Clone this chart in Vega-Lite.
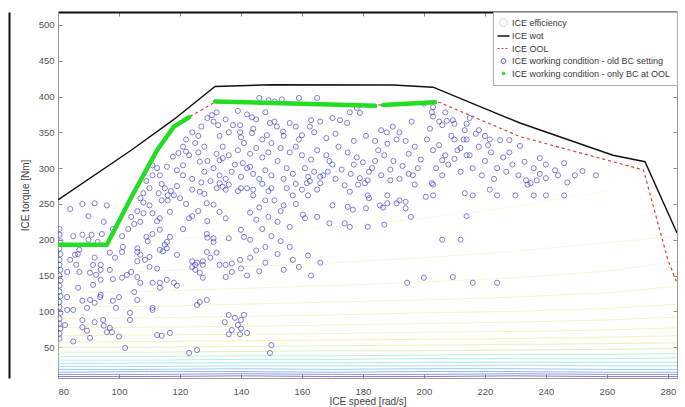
{
  "$schema": "https://vega.github.io/schema/vega-lite/v6.json",
  "width": 619,
  "height": 366,
  "autosize": {"type": "none"},
  "padding": {"left": 58, "top": 12, "right": 8, "bottom": 29},
  "background": "white",
  "config": {
    "font": "Liberation Sans",
    "view": {"stroke": null},
    "axis": {
      "grid": false,
      "labelFont": "Liberation Sans",
      "labelFontSize": 9.5,
      "labelColor": "#555555",
      "titleFont": "Liberation Sans",
      "titleFontSize": 10,
      "titleFontWeight": "normal",
      "titleColor": "#444444",
      "domainColor": "#9a9a9a",
      "tickColor": "#8a8a8a",
      "tickSize": -4
    }
  },
  "datasets": {
    "wot": [
      {"speed": 80, "torque": 255.6}, {"speed": 104, "torque": 325}, {"speed": 118, "torque": 368},
      {"speed": 131.5, "torque": 414}, {"speed": 150, "torque": 416.5}, {"speed": 190, "torque": 416},
      {"speed": 203, "torque": 413}, {"speed": 231.5, "torque": 363}, {"speed": 262, "torque": 318},
      {"speed": 272.5, "torque": 309}, {"speed": 283, "torque": 209.5}
    ],
    "ool": [
      {"speed": 80, "torque": 193}, {"speed": 96, "torque": 193}, {"speed": 112.5, "torque": 325},
      {"speed": 118, "torque": 358}, {"speed": 124, "torque": 374}, {"speed": 131.5, "torque": 392},
      {"speed": 184, "torque": 388}, {"speed": 205, "torque": 392}, {"speed": 231.5, "torque": 344},
      {"speed": 272, "torque": 297.5}, {"speed": 280, "torque": 172}, {"speed": 283, "torque": 140}
    ],
    "bcool": [
      {"seg": 1, "speed": 80, "torque": 193}, {"seg": 1, "speed": 96, "torque": 193}, {"seg": 1, "speed": 104, "torque": 259},
      {"seg": 1, "speed": 112.5, "torque": 325}, {"seg": 1, "speed": 118, "torque": 358}, {"seg": 1, "speed": 123, "torque": 371},
      {"seg": 2, "speed": 131.5, "torque": 393}, {"seg": 2, "speed": 160, "torque": 390}, {"seg": 2, "speed": 184, "torque": 387},
      {"seg": 3, "speed": 186.6, "torque": 388}, {"seg": 3, "speed": 203.6, "torque": 392}
    ],
    "contours": [
      {"eff": 0.04, "speed": 80, "torque": 9}, {"eff": 0.04, "speed": 110, "torque": 9}, {"eff": 0.04, "speed": 140, "torque": 10}, {"eff": 0.04, "speed": 170, "torque": 9}, {"eff": 0.04, "speed": 200, "torque": 9}, {"eff": 0.04, "speed": 230, "torque": 10}, {"eff": 0.04, "speed": 260, "torque": 9}, {"eff": 0.04, "speed": 283, "torque": 9},
      {"eff": 0.06, "speed": 80, "torque": 12}, {"eff": 0.06, "speed": 110, "torque": 12}, {"eff": 0.06, "speed": 140, "torque": 13}, {"eff": 0.06, "speed": 170, "torque": 12}, {"eff": 0.06, "speed": 200, "torque": 12}, {"eff": 0.06, "speed": 230, "torque": 13}, {"eff": 0.06, "speed": 260, "torque": 12}, {"eff": 0.06, "speed": 283, "torque": 12},
      {"eff": 0.08, "speed": 80, "torque": 15}, {"eff": 0.08, "speed": 110, "torque": 16}, {"eff": 0.08, "speed": 140, "torque": 16}, {"eff": 0.08, "speed": 170, "torque": 15}, {"eff": 0.08, "speed": 200, "torque": 16}, {"eff": 0.08, "speed": 230, "torque": 16}, {"eff": 0.08, "speed": 260, "torque": 15}, {"eff": 0.08, "speed": 283, "torque": 15},
      {"eff": 0.1, "speed": 80, "torque": 19}, {"eff": 0.1, "speed": 110, "torque": 19}, {"eff": 0.1, "speed": 140, "torque": 20}, {"eff": 0.1, "speed": 170, "torque": 19}, {"eff": 0.1, "speed": 200, "torque": 20}, {"eff": 0.1, "speed": 230, "torque": 20}, {"eff": 0.1, "speed": 260, "torque": 19}, {"eff": 0.1, "speed": 283, "torque": 19},
      {"eff": 0.12, "speed": 80, "torque": 23}, {"eff": 0.12, "speed": 110, "torque": 23}, {"eff": 0.12, "speed": 140, "torque": 24}, {"eff": 0.12, "speed": 170, "torque": 24}, {"eff": 0.12, "speed": 200, "torque": 24}, {"eff": 0.12, "speed": 230, "torque": 25}, {"eff": 0.12, "speed": 260, "torque": 24}, {"eff": 0.12, "speed": 283, "torque": 24},
      {"eff": 0.14, "speed": 80, "torque": 27}, {"eff": 0.14, "speed": 110, "torque": 28}, {"eff": 0.14, "speed": 140, "torque": 28}, {"eff": 0.14, "speed": 170, "torque": 28}, {"eff": 0.14, "speed": 200, "torque": 29}, {"eff": 0.14, "speed": 230, "torque": 29}, {"eff": 0.14, "speed": 260, "torque": 29}, {"eff": 0.14, "speed": 283, "torque": 29},
      {"eff": 0.16, "speed": 80, "torque": 32}, {"eff": 0.16, "speed": 110, "torque": 32}, {"eff": 0.16, "speed": 140, "torque": 33}, {"eff": 0.16, "speed": 170, "torque": 33}, {"eff": 0.16, "speed": 200, "torque": 34}, {"eff": 0.16, "speed": 230, "torque": 34}, {"eff": 0.16, "speed": 260, "torque": 34}, {"eff": 0.16, "speed": 283, "torque": 35},
      {"eff": 0.18, "speed": 80, "torque": 37}, {"eff": 0.18, "speed": 110, "torque": 37}, {"eff": 0.18, "speed": 140, "torque": 38}, {"eff": 0.18, "speed": 170, "torque": 38}, {"eff": 0.18, "speed": 200, "torque": 39}, {"eff": 0.18, "speed": 230, "torque": 40}, {"eff": 0.18, "speed": 260, "torque": 40}, {"eff": 0.18, "speed": 283, "torque": 41},
      {"eff": 0.2, "speed": 80, "torque": 43}, {"eff": 0.2, "speed": 110, "torque": 43}, {"eff": 0.2, "speed": 140, "torque": 44}, {"eff": 0.2, "speed": 170, "torque": 45}, {"eff": 0.2, "speed": 200, "torque": 45}, {"eff": 0.2, "speed": 230, "torque": 46}, {"eff": 0.2, "speed": 260, "torque": 47}, {"eff": 0.2, "speed": 283, "torque": 48},
      {"eff": 0.22, "speed": 80, "torque": 50}, {"eff": 0.22, "speed": 110, "torque": 50}, {"eff": 0.22, "speed": 140, "torque": 51}, {"eff": 0.22, "speed": 170, "torque": 52}, {"eff": 0.22, "speed": 200, "torque": 53}, {"eff": 0.22, "speed": 230, "torque": 54}, {"eff": 0.22, "speed": 260, "torque": 55}, {"eff": 0.22, "speed": 283, "torque": 56},
      {"eff": 0.24, "speed": 80, "torque": 57}, {"eff": 0.24, "speed": 110, "torque": 58}, {"eff": 0.24, "speed": 140, "torque": 59}, {"eff": 0.24, "speed": 170, "torque": 60}, {"eff": 0.24, "speed": 200, "torque": 61}, {"eff": 0.24, "speed": 230, "torque": 62}, {"eff": 0.24, "speed": 260, "torque": 64}, {"eff": 0.24, "speed": 283, "torque": 66},
      {"eff": 0.26, "speed": 80, "torque": 66}, {"eff": 0.26, "speed": 110, "torque": 67}, {"eff": 0.26, "speed": 140, "torque": 68}, {"eff": 0.26, "speed": 170, "torque": 69}, {"eff": 0.26, "speed": 200, "torque": 71}, {"eff": 0.26, "speed": 230, "torque": 72}, {"eff": 0.26, "speed": 260, "torque": 74}, {"eff": 0.26, "speed": 283, "torque": 77},
      {"eff": 0.28, "speed": 80, "torque": 77}, {"eff": 0.28, "speed": 110, "torque": 78}, {"eff": 0.28, "speed": 140, "torque": 79}, {"eff": 0.28, "speed": 170, "torque": 81}, {"eff": 0.28, "speed": 200, "torque": 83}, {"eff": 0.28, "speed": 230, "torque": 85}, {"eff": 0.28, "speed": 260, "torque": 88}, {"eff": 0.28, "speed": 283, "torque": 92},
      {"eff": 0.3, "speed": 80, "torque": 90}, {"eff": 0.3, "speed": 110, "torque": 91}, {"eff": 0.3, "speed": 140, "torque": 93}, {"eff": 0.3, "speed": 170, "torque": 95}, {"eff": 0.3, "speed": 200, "torque": 98}, {"eff": 0.3, "speed": 230, "torque": 100}, {"eff": 0.3, "speed": 260, "torque": 104}, {"eff": 0.3, "speed": 283, "torque": 110},
      {"eff": 0.32, "speed": 80, "torque": 106}, {"eff": 0.32, "speed": 110, "torque": 107}, {"eff": 0.32, "speed": 140, "torque": 110}, {"eff": 0.32, "speed": 170, "torque": 113}, {"eff": 0.32, "speed": 200, "torque": 116}, {"eff": 0.32, "speed": 230, "torque": 120}, {"eff": 0.32, "speed": 260, "torque": 126}, {"eff": 0.32, "speed": 283, "torque": 135},
      {"eff": 0.34, "speed": 80, "torque": 126}, {"eff": 0.34, "speed": 110, "torque": 128}, {"eff": 0.34, "speed": 140, "torque": 132}, {"eff": 0.34, "speed": 170, "torque": 136}, {"eff": 0.34, "speed": 200, "torque": 141}, {"eff": 0.34, "speed": 230, "torque": 147}, {"eff": 0.34, "speed": 260, "torque": 156}, {"eff": 0.34, "speed": 283, "torque": 170},
      {"eff": 0.36, "speed": 80, "torque": 152}, {"eff": 0.36, "speed": 110, "torque": 156}, {"eff": 0.36, "speed": 140, "torque": 162}, {"eff": 0.36, "speed": 170, "torque": 168}, {"eff": 0.36, "speed": 200, "torque": 175}, {"eff": 0.36, "speed": 230, "torque": 184}, {"eff": 0.36, "speed": 260, "torque": 196}, {"eff": 0.36, "speed": 283, "torque": 205},
      {"eff": 0.38, "speed": 80, "torque": 190}, {"eff": 0.38, "speed": 110, "torque": 198}, {"eff": 0.38, "speed": 140, "torque": 208}, {"eff": 0.38, "speed": 170, "torque": 218}, {"eff": 0.38, "speed": 200, "torque": 230}, {"eff": 0.38, "speed": 230, "torque": 246}, {"eff": 0.38, "speed": 260, "torque": 268}
    ],
    "bc": [
      {"speed": 80.5, "torque": 215}, {"speed": 80.5, "torque": 207}, {"speed": 80.8, "torque": 198}, {"speed": 80.5, "torque": 188}, {"speed": 80.8, "torque": 180}, {"speed": 80.5, "torque": 172}, {"speed": 80.5, "torque": 165}, {"speed": 80.8, "torque": 158}, {"speed": 80.5, "torque": 150}, {"speed": 80.8, "torque": 143}, {"speed": 80.5, "torque": 136}, {"speed": 80.5, "torque": 128}, {"speed": 80.8, "torque": 121}, {"speed": 80.5, "torque": 113}, {"speed": 80.5, "torque": 106}, {"speed": 80.8, "torque": 98}, {"speed": 80.5, "torque": 90}, {"speed": 80.5, "torque": 83}, {"speed": 80.8, "torque": 76}, {"speed": 80.5, "torque": 69}, {"speed": 80.5, "torque": 62},
      {"speed": 88, "torque": 250}, {"speed": 92, "torque": 251}, {"speed": 96, "torque": 248}, {"speed": 84, "torque": 243}, {"speed": 90, "torque": 233}, {"speed": 95, "torque": 225}, {"speed": 98, "torque": 215}, {"speed": 88, "torque": 207}, {"speed": 91, "torque": 207}, {"speed": 94.4, "torque": 208}, {"speed": 85.6, "torque": 179}, {"speed": 86.5, "torque": 180}, {"speed": 92, "torque": 175}, {"speed": 97, "torque": 182}, {"speed": 98.7, "torque": 175}, {"speed": 101, "torque": 183}, {"speed": 85, "torque": 205}, {"speed": 90, "torque": 200}, {"speed": 93, "torque": 197}, {"speed": 87, "torque": 186}, {"speed": 84, "torque": 172}, {"speed": 86, "torque": 165}, {"speed": 94, "torque": 165}, {"speed": 97, "torque": 158}, {"speed": 83, "torque": 155}, {"speed": 87, "torque": 155}, {"speed": 91.5, "torque": 165}, {"speed": 94, "torque": 158}, {"speed": 90.5, "torque": 154}, {"speed": 92.5, "torque": 151}, {"speed": 98, "torque": 145}, {"speed": 86.6, "torque": 133}, {"speed": 91.5, "torque": 137}, {"speed": 94, "torque": 144}, {"speed": 93.8, "torque": 120}, {"speed": 83, "torque": 120}, {"speed": 88, "torque": 115}, {"speed": 92, "torque": 112}, {"speed": 83, "torque": 102}, {"speed": 85, "torque": 102}, {"speed": 89.5, "torque": 105}, {"speed": 90.5, "torque": 116}, {"speed": 94, "torque": 123}, {"speed": 88, "torque": 88}, {"speed": 82.3, "torque": 81}, {"speed": 94.8, "torque": 88}, {"speed": 97, "torque": 77}, {"speed": 97.7, "torque": 71}, {"speed": 90.5, "torque": 63}, {"speed": 89.5, "torque": 73}, {"speed": 96, "torque": 71}, {"speed": 100, "torque": 65}, {"speed": 85, "torque": 58}, {"speed": 99, "torque": 105}, {"speed": 98, "torque": 115}, {"speed": 100, "torque": 120}, {"speed": 92, "torque": 85}, {"speed": 95, "torque": 80}, {"speed": 88, "torque": 78},
      {"speed": 101, "torque": 147}, {"speed": 102.6, "torque": 151}, {"speed": 104, "torque": 155}, {"speed": 106, "torque": 148}, {"speed": 105, "torque": 127}, {"speed": 106, "torque": 116}, {"speed": 107, "torque": 140}, {"speed": 111, "torque": 140}, {"speed": 113.4, "torque": 140}, {"speed": 118, "torque": 140}, {"speed": 111, "torque": 105}, {"speed": 103.6, "torque": 98}, {"speed": 103.6, "torque": 88}, {"speed": 111, "torque": 102}, {"speed": 116.7, "torque": 70}, {"speed": 101.3, "torque": 190}, {"speed": 106, "torque": 183}, {"speed": 110, "torque": 176}, {"speed": 113.4, "torque": 186}, {"speed": 115, "torque": 193}, {"speed": 115.7, "torque": 197}, {"speed": 119, "torque": 179}, {"speed": 106, "torque": 188}, {"speed": 115.7, "torque": 188}, {"speed": 115.7, "torque": 144}, {"speed": 119, "torque": 136}, {"speed": 113.4, "torque": 133},
      {"speed": 111, "torque": 304}, {"speed": 113.4, "torque": 290}, {"speed": 112.5, "torque": 300}, {"speed": 115.7, "torque": 302}, {"speed": 117.7, "torque": 316}, {"speed": 119, "torque": 297}, {"speed": 121, "torque": 304}, {"speed": 119.5, "torque": 321}, {"speed": 122, "torque": 323}, {"speed": 115, "torque": 272}, {"speed": 117, "torque": 268}, {"speed": 119, "torque": 275}, {"speed": 113, "torque": 265}, {"speed": 118, "torque": 262}, {"speed": 120, "torque": 258}, {"speed": 116, "torque": 255}, {"speed": 114, "torque": 278}, {"speed": 116, "torque": 262}, {"speed": 108, "torque": 252}, {"speed": 110, "torque": 248}, {"speed": 114, "torque": 255}, {"speed": 116.7, "torque": 239}, {"speed": 113.4, "torque": 230}, {"speed": 112.5, "torque": 226}, {"speed": 111, "torque": 237}, {"speed": 108, "torque": 237}, {"speed": 107, "torque": 225}, {"speed": 116.7, "torque": 204}, {"speed": 114.4, "torque": 184}, {"speed": 109, "torque": 204}, {"speed": 109.4, "torque": 198}, {"speed": 111, "torque": 208}, {"speed": 113.4, "torque": 214}, {"speed": 107, "torque": 179}, {"speed": 108.5, "torque": 172}, {"speed": 106, "torque": 170}, {"speed": 110, "torque": 162}, {"speed": 112.5, "torque": 160}, {"speed": 101, "torque": 205}, {"speed": 103, "torque": 215}, {"speed": 105, "torque": 222}, {"speed": 104, "torque": 232}, {"speed": 106, "torque": 240}, {"speed": 108, "torque": 265}, {"speed": 110, "torque": 272}, {"speed": 109, "torque": 282}, {"speed": 111, "torque": 290}, {"speed": 107, "torque": 258}, {"speed": 102, "torque": 49}, {"speed": 112.5, "torque": 67}, {"speed": 114, "torque": 66},
      {"speed": 123, "torque": 230}, {"speed": 124, "torque": 233}, {"speed": 124, "torque": 270}, {"speed": 126.5, "torque": 267}, {"speed": 128, "torque": 264}, {"speed": 128.8, "torque": 251}, {"speed": 126.5, "torque": 309}, {"speed": 124, "torque": 162}, {"speed": 125, "torque": 165}, {"speed": 127.5, "torque": 165}, {"speed": 125.6, "torque": 168}, {"speed": 127.5, "torque": 170}, {"speed": 130, "torque": 175}, {"speed": 128.8, "torque": 183}, {"speed": 124, "torque": 170}, {"speed": 125, "torque": 158}, {"speed": 126.5, "torque": 154}, {"speed": 127.5, "torque": 147}, {"speed": 129, "torque": 203}, {"speed": 128.8, "torque": 208}, {"speed": 125.6, "torque": 109}, {"speed": 126.5, "torque": 113}, {"speed": 128.8, "torque": 116}, {"speed": 123, "torque": 42}, {"speed": 125.6, "torque": 46}, {"speed": 121, "torque": 330}, {"speed": 122, "torque": 340}, {"speed": 124, "torque": 350}, {"speed": 125, "torque": 335}, {"speed": 126, "torque": 345}, {"speed": 127, "torque": 358}, {"speed": 128, "torque": 330}, {"speed": 123, "torque": 318}, {"speed": 126, "torque": 322}, {"speed": 129, "torque": 310}, {"speed": 128, "torque": 295}, {"speed": 121, "torque": 290}, {"speed": 124, "torque": 285}, {"speed": 127, "torque": 280}, {"speed": 129, "torque": 370}, {"speed": 122, "torque": 250}, {"speed": 121, "torque": 215}, {"speed": 126, "torque": 240}, {"speed": 129, "torque": 226},
      {"speed": 131, "torque": 197}, {"speed": 132, "torque": 182}, {"speed": 131, "torque": 249}, {"speed": 132, "torque": 272}, {"speed": 133, "torque": 279}, {"speed": 134, "torque": 274}, {"speed": 135, "torque": 270}, {"speed": 140, "torque": 272}, {"speed": 142, "torque": 272}, {"speed": 144, "torque": 270}, {"speed": 133, "torque": 239}, {"speed": 135, "torque": 230}, {"speed": 140, "torque": 214}, {"speed": 141, "torque": 204}, {"speed": 143, "torque": 200}, {"speed": 140.6, "torque": 307}, {"speed": 143, "torque": 302}, {"speed": 134, "torque": 314}, {"speed": 133, "torque": 311}, {"speed": 131, "torque": 202}, {"speed": 136, "torque": 202}, {"speed": 139.7, "torque": 172}, {"speed": 137, "torque": 167}, {"speed": 135, "torque": 165}, {"speed": 133, "torque": 165}, {"speed": 130.5, "torque": 374}, {"speed": 137.4, "torque": 360}, {"speed": 139.7, "torque": 360}, {"speed": 143.6, "torque": 371}, {"speed": 149.5, "torque": 363}, {"speed": 131, "torque": 365}, {"speed": 132.5, "torque": 360}, {"speed": 139.7, "torque": 350}, {"speed": 143.6, "torque": 349}, {"speed": 148.5, "torque": 346}, {"speed": 146, "torque": 398}, {"speed": 149, "torque": 395}, {"speed": 136, "torque": 95}, {"speed": 138, "torque": 91}, {"speed": 140, "torque": 88}, {"speed": 141, "torque": 95}, {"speed": 139, "torque": 81}, {"speed": 137, "torque": 74}, {"speed": 134.7, "torque": 85}, {"speed": 140, "torque": 76}, {"speed": 136, "torque": 68}, {"speed": 139.7, "torque": 68}, {"speed": 142, "torque": 70}, {"speed": 149.5, "torque": 42},
      {"speed": 131, "torque": 300}, {"speed": 133, "torque": 290}, {"speed": 135, "torque": 285}, {"speed": 137, "torque": 295}, {"speed": 138, "torque": 305}, {"speed": 140, "torque": 288}, {"speed": 142, "torque": 300}, {"speed": 144, "torque": 292}, {"speed": 146, "torque": 285}, {"speed": 148, "torque": 297}, {"speed": 150, "torque": 290}, {"speed": 132, "torque": 320}, {"speed": 134, "torque": 330}, {"speed": 136, "torque": 318}, {"speed": 139, "torque": 325}, {"speed": 141, "torque": 335}, {"speed": 143, "torque": 320}, {"speed": 145, "torque": 328}, {"speed": 147, "torque": 315}, {"speed": 149, "torque": 322}, {"speed": 133, "torque": 345}, {"speed": 136, "torque": 350}, {"speed": 140, "torque": 343}, {"speed": 144, "torque": 355}, {"speed": 147, "torque": 340}, {"speed": 132, "torque": 378}, {"speed": 135, "torque": 368}, {"speed": 139, "torque": 380}, {"speed": 142, "torque": 375}, {"speed": 145, "torque": 368}, {"speed": 148, "torque": 378}, {"speed": 130, "torque": 282}, {"speed": 136, "torque": 277}, {"speed": 139, "torque": 268}, {"speed": 144, "torque": 262}, {"speed": 147, "torque": 278}, {"speed": 149, "torque": 268}, {"speed": 143, "torque": 238}, {"speed": 145, "torque": 228}, {"speed": 147, "torque": 215}, {"speed": 148, "torque": 190}, {"speed": 145, "torque": 185}, {"speed": 148, "torque": 168}, {"speed": 143, "torque": 175}, {"speed": 140, "torque": 160}, {"speed": 137, "torque": 155}, {"speed": 135, "torque": 148}, {"speed": 142, "torque": 150}, {"speed": 146, "torque": 156}, {"speed": 146, "torque": 245}, {"speed": 148, "torque": 255}, {"speed": 149, "torque": 232},
      {"speed": 150, "torque": 53}, {"speed": 151, "torque": 393}, {"speed": 153.4, "torque": 396}, {"speed": 159, "torque": 398}, {"speed": 165, "torque": 398}, {"speed": 151, "torque": 365}, {"speed": 151.8, "torque": 358}, {"speed": 153.8, "torque": 351}, {"speed": 156, "torque": 363}, {"speed": 158, "torque": 358}, {"speed": 160, "torque": 346}, {"speed": 162.6, "torque": 358}, {"speed": 163, "torque": 367}, {"speed": 166, "torque": 365}, {"speed": 170, "torque": 370}, {"speed": 172.5, "torque": 367}, {"speed": 174.8, "torque": 363}, {"speed": 175.7, "torque": 378}, {"speed": 178, "torque": 384}, {"speed": 179, "torque": 377}, {"speed": 186, "torque": 353}, {"speed": 187.8, "torque": 350}, {"speed": 189.8, "torque": 358}, {"speed": 192, "torque": 350}, {"speed": 196, "torque": 365}, {"speed": 161.6, "torque": 279}, {"speed": 162.6, "torque": 282}, {"speed": 166, "torque": 279}, {"speed": 167, "torque": 290}, {"speed": 168.5, "torque": 295}, {"speed": 175.7, "torque": 267}, {"speed": 178.4, "torque": 277}, {"speed": 180.6, "torque": 279}, {"speed": 181.6, "torque": 283}, {"speed": 181.6, "torque": 262}, {"speed": 182, "torque": 258}, {"speed": 188, "torque": 262}, {"speed": 189, "torque": 283}, {"speed": 196.4, "torque": 290}, {"speed": 197, "torque": 277}, {"speed": 170, "torque": 248}, {"speed": 175, "torque": 246}, {"speed": 176.7, "torque": 242}, {"speed": 181, "torque": 244}, {"speed": 185.6, "torque": 248}, {"speed": 186.6, "torque": 245}, {"speed": 188, "torque": 251}, {"speed": 191, "torque": 251}, {"speed": 192, "torque": 255}, {"speed": 194, "torque": 253}, {"speed": 194, "torque": 244}, {"speed": 195.7, "torque": 232}, {"speed": 160.3, "torque": 235}, {"speed": 161, "torque": 230}, {"speed": 165, "torque": 232}, {"speed": 169, "torque": 223}, {"speed": 174, "torque": 223}, {"speed": 175.7, "torque": 218}, {"speed": 181.6, "torque": 218}, {"speed": 187, "torque": 221}, {"speed": 194.5, "torque": 140},
      {"speed": 150, "torque": 335}, {"speed": 153, "torque": 328}, {"speed": 156, "torque": 322}, {"speed": 158, "torque": 330}, {"speed": 160, "torque": 318}, {"speed": 163, "torque": 312}, {"speed": 165, "torque": 325}, {"speed": 168, "torque": 318}, {"speed": 170, "torque": 305}, {"speed": 172, "torque": 330}, {"speed": 175, "torque": 322}, {"speed": 178, "torque": 315}, {"speed": 180, "torque": 308}, {"speed": 183, "torque": 300}, {"speed": 185, "torque": 325}, {"speed": 187, "torque": 318}, {"speed": 190, "torque": 310}, {"speed": 193, "torque": 303}, {"speed": 195, "torque": 320}, {"speed": 197, "torque": 330}, {"speed": 199, "torque": 312}, {"speed": 152, "torque": 310}, {"speed": 155, "torque": 300}, {"speed": 157, "torque": 292}, {"speed": 161, "torque": 300}, {"speed": 164, "torque": 295}, {"speed": 166, "torque": 288}, {"speed": 169, "torque": 310}, {"speed": 173, "torque": 298}, {"speed": 176, "torque": 292}, {"speed": 179, "torque": 286}, {"speed": 182, "torque": 295}, {"speed": 186, "torque": 290}, {"speed": 189, "torque": 298}, {"speed": 192, "torque": 285}, {"speed": 195, "torque": 292}, {"speed": 198, "torque": 300}, {"speed": 154, "torque": 285}, {"speed": 158, "torque": 278}, {"speed": 162, "torque": 288}, {"speed": 171, "torque": 285}, {"speed": 174, "torque": 276}, {"speed": 177, "torque": 305}, {"speed": 184, "torque": 310}, {"speed": 188, "torque": 334}, {"speed": 191, "torque": 340}, {"speed": 194, "torque": 338}, {"speed": 154, "torque": 345}, {"speed": 159, "torque": 340}, {"speed": 164, "torque": 350}, {"speed": 168, "torque": 342}, {"speed": 171, "torque": 348}, {"speed": 177, "torque": 338}, {"speed": 181, "torque": 345}, {"speed": 184, "torque": 338},
      {"speed": 151, "torque": 255}, {"speed": 154, "torque": 248}, {"speed": 157, "torque": 262}, {"speed": 160, "torque": 270}, {"speed": 153, "torque": 240}, {"speed": 152, "torque": 225}, {"speed": 156, "torque": 218}, {"speed": 150, "torque": 272}, {"speed": 155, "torque": 272}, {"speed": 158, "torque": 250}, {"speed": 162, "torque": 262}, {"speed": 165, "torque": 270}, {"speed": 150, "torque": 205}, {"speed": 153, "torque": 198}, {"speed": 156, "torque": 190}, {"speed": 152, "torque": 180}, {"speed": 157, "torque": 172}, {"speed": 162, "torque": 178}, {"speed": 166, "torque": 168}, {"speed": 154, "torque": 158}, {"speed": 159, "torque": 162}, {"speed": 163, "torque": 150},
      {"speed": 202.6, "torque": 378}, {"speed": 207.5, "torque": 366}, {"speed": 210, "torque": 362}, {"speed": 214, "torque": 340}, {"speed": 210, "torque": 340}, {"speed": 221.6, "torque": 340}, {"speed": 206, "torque": 311}, {"speed": 210, "torque": 313}, {"speed": 214, "torque": 318}, {"speed": 233, "torque": 309}, {"speed": 238, "torque": 314}, {"speed": 240, "torque": 305}, {"speed": 231, "torque": 290}, {"speed": 233.5, "torque": 283}, {"speed": 235, "torque": 279}, {"speed": 237, "torque": 283}, {"speed": 240, "torque": 286}, {"speed": 243, "torque": 297}, {"speed": 246, "torque": 307}, {"speed": 234, "torque": 277}, {"speed": 249.5, "torque": 290}, {"speed": 256.4, "torque": 290}, {"speed": 203, "torque": 262}, {"speed": 216, "torque": 262}, {"speed": 224, "torque": 262}, {"speed": 230, "torque": 262}, {"speed": 236, "torque": 262}, {"speed": 240, "torque": 262}, {"speed": 246, "torque": 262}, {"speed": 214, "torque": 233}, {"speed": 206, "torque": 200}, {"speed": 212, "torque": 200}, {"speed": 202.6, "torque": 279}, {"speed": 213.4, "torque": 353}, {"speed": 215, "torque": 370}, {"speed": 218, "torque": 353}, {"speed": 225, "torque": 339}, {"speed": 228, "torque": 339}, {"speed": 212, "torque": 328}, {"speed": 221, "torque": 332}, {"speed": 228, "torque": 322}, {"speed": 231.5, "torque": 331}, {"speed": 203, "torque": 277}, {"speed": 213.4, "torque": 265}, {"speed": 221.6, "torque": 270}, {"speed": 200.6, "torque": 260}, {"speed": 200, "torque": 147}, {"speed": 209.5, "torque": 148}, {"speed": 216, "torque": 140}, {"speed": 224, "torque": 140}, {"speed": 201, "torque": 340}, {"speed": 203, "torque": 325}, {"speed": 205, "torque": 332}, {"speed": 207, "torque": 318}, {"speed": 209, "torque": 345}, {"speed": 211, "torque": 325}, {"speed": 213, "torque": 340}, {"speed": 215, "torque": 318}, {"speed": 218, "torque": 330}, {"speed": 220, "torque": 310}, {"speed": 222, "torque": 322}, {"speed": 224, "torque": 300}, {"speed": 226, "torque": 315}, {"speed": 204, "torque": 300}, {"speed": 206, "torque": 290}, {"speed": 208, "torque": 305}, {"speed": 212, "torque": 295}, {"speed": 216, "torque": 300}, {"speed": 219, "torque": 290}, {"speed": 223, "torque": 285}, {"speed": 227, "torque": 295}, {"speed": 229, "torque": 305}, {"speed": 202, "torque": 355}, {"speed": 206, "torque": 360}, {"speed": 214, "torque": 362}, {"speed": 217, "torque": 348}, {"speed": 220, "torque": 345}, {"speed": 203, "torque": 372}, {"speed": 207, "torque": 378}, {"speed": 200, "torque": 390}, {"speed": 203, "torque": 385}, {"speed": 205, "torque": 365}, {"speed": 209.5, "torque": 367}, {"speed": 236, "torque": 300}, {"speed": 244, "torque": 290}, {"speed": 238, "torque": 292}, {"speed": 247, "torque": 280}, {"speed": 252, "torque": 296}
    ]
  },
  "resolve": {"axis": {"x": "independent", "y": "independent"}},
  "layer": [
    {
      "data": {"name": "contours"},
      "mark": {"type": "line", "strokeWidth": 1, "opacity": 0.75, "clip": true},
      "encoding": {
        "x": {
          "field": "speed", "type": "quantitative",
          "scale": {"domain": [80, 283], "nice": false, "zero": false},
          "axis": {"values": [80, 100, 120, 140, 160, 180, 200, 220, 240, 260, 280], "title": "ICE speed [rad/s]", "labelPadding": 12, "titlePadding": 1}
        },
        "y": {
          "field": "torque", "type": "quantitative",
          "scale": {"domain": [7, 518], "nice": false, "zero": false},
          "axis": {"values": [50, 100, 150, 200, 250, 300, 350, 400, 450, 500], "title": "ICE torque [Nm]", "labelPadding": 8, "titlePadding": 8}
        },
        "detail": {"field": "eff", "type": "nominal"},
        "stroke": {
          "field": "eff", "type": "quantitative",
          "scale": {"domain": [0.04, 0.08, 0.12, 0.16, 0.2, 0.24, 0.32, 0.38], "range": ["#5b4fc4", "#7b9ce6", "#88d6f2", "#9eebd8", "#cdeeb0", "#eeeea0", "#f4f2c0", "#faf8e0"]},
          "legend": null
        }
      }
    },
    {
      "data": {"name": "bc"},
      "mark": {"type": "point", "filled": false, "size": 26, "strokeWidth": 0.85, "opacity": 0.75, "clip": true},
      "encoding": {
        "x": {"field": "speed", "type": "quantitative", "scale": {"domain": [80, 283], "nice": false, "zero": false}, "axis": null},
        "y": {
          "field": "torque", "type": "quantitative", "scale": {"domain": [7, 518], "nice": false, "zero": false},
          "axis": {"orient": "left", "offset": 49, "labels": false, "ticks": false, "title": null, "domainColor": "#111111", "domainWidth": 2}
        },
        "color": {"datum": "ICE working condition - old BC setting", "type": "nominal"}
      }
    },
    {
      "data": {"name": "ool"},
      "mark": {"type": "line", "strokeWidth": 1.2, "strokeDash": [3, 3], "clip": true},
      "encoding": {
        "x": {"field": "speed", "type": "quantitative", "scale": {"domain": [80, 283], "nice": false, "zero": false}, "axis": null},
        "y": {"field": "torque", "type": "quantitative", "scale": {"domain": [7, 518], "nice": false, "zero": false}, "axis": null},
        "color": {"datum": "ICE OOL", "type": "nominal"}
      }
    },
    {
      "data": {"name": "bcool"},
      "mark": {"type": "line", "strokeWidth": 4.5, "strokeCap": "round", "clip": true},
      "encoding": {
        "x": {"field": "speed", "type": "quantitative", "scale": {"domain": [80, 283], "nice": false, "zero": false}, "axis": null},
        "y": {"field": "torque", "type": "quantitative", "scale": {"domain": [7, 518], "nice": false, "zero": false}, "axis": null},
        "detail": {"field": "seg", "type": "nominal"},
        "color": {"datum": "ICE working condition - only BC at OOL", "type": "nominal"}
      }
    },
    {
      "data": {"name": "wot"},
      "mark": {"type": "line", "strokeWidth": 1.4, "clip": true},
      "encoding": {
        "x": {
          "field": "speed", "type": "quantitative", "scale": {"domain": [80, 283], "nice": false, "zero": false},
          "axis": {"orient": "top", "labels": false, "title": null, "values": [80, 100, 120, 140, 160, 180, 200, 220, 240, 260, 280], "domainColor": "#111111", "domainWidth": 2}
        },
        "y": {
          "field": "torque", "type": "quantitative", "scale": {"domain": [7, 518], "nice": false, "zero": false},
          "axis": {"orient": "right", "labels": false, "title": null, "values": [50, 100, 150, 200, 250, 300, 350, 400, 450, 500]}
        },
        "color": {
          "datum": "ICE wot", "type": "nominal",
          "scale": {
            "domain": ["ICE efficiency", "ICE wot", "ICE OOL", "ICE working condition - old BC setting", "ICE working condition - only BC at OOL"],
            "range": ["#c9d6dc", "#111111", "#d9413a", "#3838c0", "#22dd22"]
          },
          "legend": {
            "title": null,
            "orient": "top-right",
            "offset": 0,
            "padding": 6,
            "fillColor": "#ffffff",
            "strokeColor": "#b0b0b0",
            "labelFont": "Liberation Sans",
            "labelFontSize": 9,
            "labelColor": "#3a3a3a",
            "labelLimit": 400,
            "labelOffset": 4,
            "rowPadding": 2.5,
            "encode": {
              "symbols": {
                "update": {
                  "shape": {"signal": "datum.value === 'ICE wot' || datum.value === 'ICE OOL' ? 'stroke' : 'circle'"},
                  "size": {"signal": "datum.value === 'ICE wot' || datum.value === 'ICE OOL' ? 144 : (datum.value === 'ICE working condition - only BC at OOL' ? 8 : (datum.value === 'ICE efficiency' ? 60 : 22))"},
                  "stroke": {"signal": "datum.value === 'ICE wot' ? '#111111' : (datum.value === 'ICE OOL' ? '#d9413a' : (datum.value === 'ICE efficiency' ? '#c9d6dc' : (datum.value === 'ICE working condition - only BC at OOL' ? '#55cc55' : '#8080d0')))"},
                  "fill": {"signal": "datum.value === 'ICE working condition - only BC at OOL' ? '#55cc55' : 'transparent'"},
                  "strokeDash": {"signal": "datum.value === 'ICE OOL' ? [2, 2] : [1, 0]"},
                  "strokeWidth": {"signal": "datum.value === 'ICE wot' ? 1.6 : 1"},
                  "opacity": {"value": 1}
                }
              }
            }
          }
        }
      }
    }
  ]
}
